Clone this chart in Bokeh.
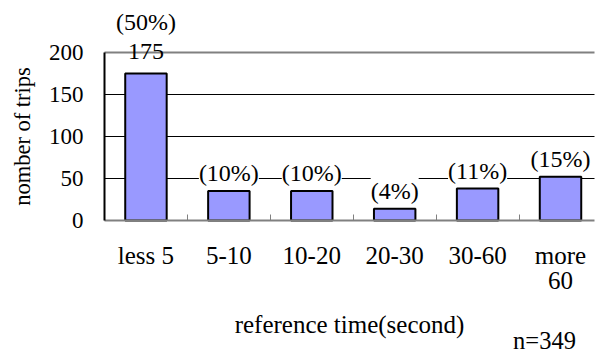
import math
from bokeh.plotting import figure
from bokeh.models import (ColumnDataSource, LabelSet, Label, Range1d, FixedTicker)
from bokeh.embed import file_html
from bokeh.resources import INLINE

categories = ["less 5", "5-10", "10-20", "20-30", "30-60", "more\n60"]
trips = [175, 35, 35, 14, 38, 52]
pct_labels = ["(50%)", "(10%)", "(10%)", "(4%)", "(11%)", "(15%)"]
count_labels = ["175", "", "", "", "", ""]
y_ticks = [0, 50, 100, 150, 200]
total_label = "n=349"
x_title = "reference time(second)"
y_title = "nomber of trips"

FONT = "Liberation Serif"

# page geometry (pixels)
W, H = 602, 356
LEFT, RIGHT, TOP, BOTTOM = 104, 594, 52, 220

n = len(categories)
X_END = n - 0.09            # visible part of the category axis
Y_MAX = y_ticks[-1]
px_x = (RIGHT - LEFT) / X_END
px_y = (BOTTOM - TOP) / Y_MAX

xs = [i + 0.5 for i in range(n)]
src = ColumnDataSource(dict(
    x=xs, top=trips, pct=pct_labels, cnt=count_labels,
    pct_off=[39 if c else 5 for c in count_labels],
))

p = figure(width=W, height=H, output_backend="svg", toolbar_location=None,
           x_range=Range1d(-LEFT / px_x, X_END + (W - RIGHT) / px_x),
           y_range=Range1d(-(H - BOTTOM) / px_y, BOTTOM / px_y),
           min_border_left=0, min_border_right=0, min_border_top=0, min_border_bottom=0)
p.outline_line_color = None
p.background_fill_color = "white"
p.xgrid.grid_line_color = None
p.ygrid.grid_line_color = None

# horizontal grid lines, limited to the plotting area
inner = y_ticks[1:-1]
p.segment(x0=[0] * len(inner), x1=[X_END] * len(inner), y0=inner, y1=inner,
          line_color="black", line_width=1)
p.segment(x0=[0], x1=[X_END], y0=[Y_MAX], y1=[Y_MAX], line_color="#808080", line_width=2)

p.vbar(x="x", top="top", width=0.5, source=src, fill_color="#9999FF",
       line_color="black", line_width=2)

common = dict(source=src, x="x", y="top", text_align="center", text_baseline="bottom",
              text_font=FONT, text_font_size="24px", text_color="black")
p.add_layout(LabelSet(text="cnt", y_offset=15, **common))
p.add_layout(LabelSet(text="pct", y_offset="pct_off", background_fill_color="white", **common))

# x axis (placed at y = 0)
p.xaxis.fixed_location = 0
p.xaxis.bounds = (0, X_END)
p.xaxis.ticker = FixedTicker(ticks=xs, minor_ticks=list(range(1, n)))
p.xaxis.major_label_overrides = {x: c for x, c in zip(xs, categories)}
p.xaxis.major_tick_in = 0
p.xaxis.major_tick_out = 0
p.xaxis.minor_tick_in = 6
p.xaxis.minor_tick_out = 0
p.xaxis.minor_tick_line_color = "#808080"
p.xaxis.axis_line_color = "#808080"
p.xaxis.axis_line_width = 2
p.xaxis.major_label_text_font = FONT
p.xaxis.major_label_text_font_size = "25px"
p.xaxis.major_label_text_color = "black"
p.xaxis.major_label_text_line_height = 0.95
p.xaxis.major_label_standoff = 21

# y axis (placed at x = 0)
p.yaxis.fixed_location = 0
p.yaxis.bounds = (0, Y_MAX)
p.yaxis.ticker = FixedTicker(ticks=y_ticks)
p.yaxis.major_tick_in = 0
p.yaxis.major_tick_out = 0
p.yaxis.minor_tick_line_color = None
p.yaxis.axis_line_color = "black"
p.yaxis.axis_line_width = 2
p.yaxis.major_label_text_font = FONT
p.yaxis.major_label_text_font_size = "23px"
p.yaxis.major_label_text_color = "black"
p.yaxis.major_label_standoff = 21

# axis titles and note
p.add_layout(Label(x=X_END / 2, y=H - 324, x_units="data", y_units="screen", text=x_title,
                   text_align="center", text_baseline="alphabetic", text_font=FONT,
                   text_font_size="25px", text_color="black"))
p.add_layout(Label(x=22, y=Y_MAX / 2, x_units="screen", y_units="data", text=y_title,
                   angle=math.pi / 2, text_align="center", text_baseline="middle",
                   text_font=FONT, text_font_size="22.5px", text_color="black"))
p.add_layout(Label(x=544, y=H - 340, x_units="screen", y_units="screen", text=total_label,
                   text_align="center", text_baseline="alphabetic", text_font=FONT,
                   text_font_size="24.5px", text_color="black"))

open("out.html", "w").write(file_html(p, INLINE))
